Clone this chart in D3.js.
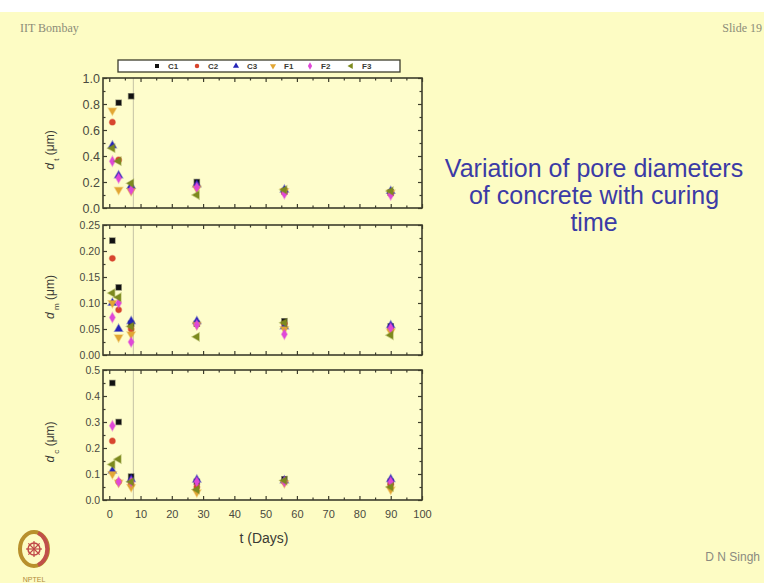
<!DOCTYPE html>
<html>
<head>
<meta charset="utf-8">
<script src="https://cdn.jsdelivr.net/npm/d3@7"></script>
<style>
  body { margin: 0; background: #fff; }
  svg { display: block; }
</style>
</head>
<body>
<svg id="chart"></svg>
<script>
(function() {

// ---- data ----
const days = [1, 3, 7, 28, 56, 90];
const seriesNames = ["C1", "C2", "C3", "F1", "F2", "F3"];
const seriesColors = ["#111111", "#d8452e", "#2525b8", "#e2a634", "#e048d8", "#7d8a1e"];
const xTicks = [0, 10, 20, 30, 40, 50, 60, 70, 80, 90, 100];
const guideDay = 7.7;   // thin grey vertical line in every panel

// d_t (um), rows = series, cols = days
const dtValues = [
  [null, 0.81, 0.86, 0.20, 0.13, 0.12],
  [0.66, 0.37, 0.15, 0.17, 0.12, 0.11],
  [0.48, 0.25, 0.17, 0.18, 0.14, 0.13],
  [0.75, 0.14, 0.13, 0.15, 0.13, 0.12],
  [0.36, 0.23, 0.14, 0.16, 0.11, 0.10],
  [0.46, 0.36, 0.19, 0.10, 0.14, 0.13]
];
// d_m (um)
const dmValues = [
  [0.22, 0.13, 0.060, 0.060, 0.065, 0.055],
  [0.186, 0.087, 0.050, 0.060, 0.060, 0.050],
  [0.100, 0.050, 0.065, 0.065, 0.055, 0.057],
  [0.100, 0.034, 0.040, 0.058, 0.050, 0.045],
  [0.072, 0.100, 0.025, 0.058, 0.040, 0.052],
  [0.119, 0.111, 0.055, 0.035, 0.062, 0.038]
];
// d_c (um)
const dcValues = [
  [0.45, 0.30, 0.09, 0.07, 0.08, 0.07],
  [0.227, 0.07, 0.06, 0.05, 0.07, 0.06],
  [0.112, null, 0.08, 0.078, 0.075, 0.08],
  [0.10, 0.067, 0.05, 0.03, 0.065, 0.04],
  [0.286, 0.07, 0.07, 0.07, 0.07, 0.07],
  [0.137, 0.157, 0.07, 0.04, 0.075, 0.05]
];

const titleLines = ["Variation of pore diameters", "of concrete with curing", "time"];

// ---- layout ----
const W = 764, H = 583;
const bg = "#fdfcc4";
const frameColor = "#3d3d2c";
const tickText = "#4a4a40";

const svg = d3.select("#chart").attr("width", W).attr("height", H);

svg.append("rect").attr("width", W).attr("height", H).attr("fill", "#ffffff");
svg.append("rect").attr("y", 12).attr("width", W).attr("height", H - 12).attr("fill", bg);

// slide header / footer
svg.append("text").attr("x", 20).attr("y", 32)
  .style("font-family", "Liberation Serif, serif").style("font-size", "12px")
  .attr("fill", "#8c8c78").text("IIT Bombay");
svg.append("text").attr("x", 762).attr("y", 32).attr("text-anchor", "end")
  .style("font-family", "Liberation Serif, serif").style("font-size", "12px")
  .attr("fill", "#8c8c78").text("Slide 19");
svg.append("text").attr("x", 760).attr("y", 561).attr("text-anchor", "end")
  .style("font-family", "Liberation Sans, Arial, sans-serif").style("font-size", "12px")
  .attr("fill", "#8a8a80").text("D N Singh");

// simple NPTEL emblem
const logo = svg.append("g").attr("transform", "translate(34,549)");
logo.append("ellipse").attr("rx", 14).attr("ry", 17).attr("fill", "none")
  .attr("stroke", "#b8902c").attr("stroke-width", 4);
logo.append("path").attr("d", "M 4,-16 A 14,17 0 0 1 4,16").attr("fill", "none")
  .attr("stroke", "#c0504a").attr("stroke-width", 4);
logo.append("circle").attr("r", 6).attr("fill", "none").attr("stroke", "#c04848").attr("stroke-width", 1.5);
d3.range(8).forEach(i => {
  const a = i * Math.PI / 4;
  logo.append("line").attr("x1", 0).attr("y1", 0)
    .attr("x2", 8 * Math.cos(a)).attr("y2", 8 * Math.sin(a))
    .attr("stroke", "#c04848").attr("stroke-width", 1.2);
});
svg.append("text").attr("x", 34).attr("y", 582).attr("text-anchor", "middle")
  .style("font-family", "Liberation Sans, Arial, sans-serif").style("font-size", "7px")
  .attr("fill", "#b08a3a").text("NPTEL");

// title on the right
svg.append("g").selectAll("text")
  .data(titleLines)
  .enter().append("text")
  .attr("x", 594)
  .attr("y", (d, i) => 177 + i * 27)
  .attr("text-anchor", "middle")
  .style("font-family", "Liberation Sans, Arial, sans-serif")
  .style("font-size", "25px")
  .attr("fill", "#3b3ba6")
  .text(d => d);

// ---- scales ----
const xScale = d3.scaleLinear().domain([-2, 100]).range([103, 422]);

const symbolTypes = [d3.symbolSquare, d3.symbolCircle, d3.symbolTriangle, d3.symbolTriangle, d3.symbolDiamond, d3.symbolTriangle];
const symbolRotate = [0, 0, 0, 180, 0, -90];

const panels = [
  { top: 78,  bottom: 208, max: 1.0,  major: 0.2,  minor: 0.1,   fmt: ".1f", values: dtValues, sub: "t", fs: 12.5 },
  { top: 225, bottom: 355, max: 0.25, major: 0.05, minor: 0.025, fmt: ".2f", values: dmValues, sub: "m", fs: 10.5 },
  { top: 370, bottom: 500, max: 0.5,  major: 0.1,  minor: 0.05,  fmt: ".1f", values: dcValues, sub: "c", fs: 10.5 }
];

panels.forEach((p, pi) => {
  const yScale = d3.scaleLinear().domain([0, p.max]).range([p.bottom, p.top]);
  const g = svg.append("g");
  const x0 = xScale.range()[0], x1 = xScale.range()[1];

  g.append("rect")
    .attr("x", x0).attr("y", p.top)
    .attr("width", x1 - x0).attr("height", p.bottom - p.top)
    .attr("fill", "#fefdcc");

  // thin guide line
  g.append("line")
    .attr("x1", xScale(guideDay)).attr("x2", xScale(guideDay))
    .attr("y1", p.top).attr("y2", p.bottom)
    .attr("stroke", "#c4c2a4").attr("stroke-width", 1);

  const majorY = d3.range(0, p.max + 1e-9, p.major);
  const minorY = d3.range(p.minor, p.max, p.major);
  const minorX = d3.range(5, 100, 10);

  const styleAxis = sel => {
    sel.select(".domain").remove();
    sel.selectAll("line").attr("stroke", frameColor).attr("stroke-width", 1.2);
    sel.selectAll("text").attr("fill", tickText)
      .style("font-family", "Liberation Sans, Arial, sans-serif");
  };

  // left axis with labels
  g.append("g").attr("transform", `translate(${x0},0)`)
    .call(d3.axisLeft(yScale).tickValues(majorY).tickSize(-4).tickPadding(3).tickFormat(d3.format(p.fmt)))
    .call(styleAxis)
    .call(s => s.selectAll("text").style("font-size", p.fs + "px"));
  g.append("g").attr("transform", `translate(${x0},0)`)
    .call(d3.axisLeft(yScale).tickValues(minorY).tickSize(-2.5).tickFormat(""))
    .call(styleAxis);
  // right axis
  g.append("g").attr("transform", `translate(${x1},0)`)
    .call(d3.axisRight(yScale).tickValues(majorY).tickSize(-4).tickFormat(""))
    .call(styleAxis);
  g.append("g").attr("transform", `translate(${x1},0)`)
    .call(d3.axisRight(yScale).tickValues(minorY).tickSize(-2.5).tickFormat(""))
    .call(styleAxis);
  // bottom axis
  const bottomAxis = d3.axisBottom(xScale).tickValues(xTicks).tickSize(-4).tickPadding(10);
  if (pi < panels.length - 1) bottomAxis.tickFormat("");
  g.append("g").attr("transform", `translate(0,${p.bottom})`)
    .call(bottomAxis)
    .call(styleAxis)
    .call(s => s.selectAll("text").style("font-size", "11px"));
  g.append("g").attr("transform", `translate(0,${p.bottom})`)
    .call(d3.axisBottom(xScale).tickValues(minorX).tickSize(-2.5).tickFormat(""))
    .call(styleAxis);
  // top axis
  g.append("g").attr("transform", `translate(0,${p.top})`)
    .call(d3.axisTop(xScale).tickValues(xTicks).tickSize(-4).tickFormat(""))
    .call(styleAxis);
  g.append("g").attr("transform", `translate(0,${p.top})`)
    .call(d3.axisTop(xScale).tickValues(minorX).tickSize(-2.5).tickFormat(""))
    .call(styleAxis);

  // frame
  g.append("rect")
    .attr("x", x0).attr("y", p.top)
    .attr("width", x1 - x0).attr("height", p.bottom - p.top)
    .attr("fill", "none").attr("stroke", frameColor).attr("stroke-width", 1.6);

  // y title
  const cy = (p.top + p.bottom) / 2 + 7;
  const yt = g.append("text")
    .attr("transform", `translate(54,${cy}) rotate(-90)`)
    .attr("text-anchor", "middle")
    .style("font-family", "Liberation Sans, Arial, sans-serif")
    .style("font-size", "12px")
    .attr("fill", "#3a3a34");
  yt.append("tspan").style("font-style", "italic").text("d");
  yt.append("tspan").attr("dy", 5).style("font-size", "8px").text(" " + p.sub);
  yt.append("tspan").attr("dy", -5).text(" (\u03bcm)");

  // markers
  seriesNames.forEach((name, si) => {
    const pts = days.map((d, di) => ({ day: d, v: p.values[si][di] })).filter(d => d.v != null);
    g.append("g").selectAll("path")
      .data(pts)
      .enter().append("path")
      .attr("d", d3.symbol().type(symbolTypes[si]).size(26))
      .attr("transform", d => `translate(${xScale(d.day)},${yScale(d.v)}) rotate(${symbolRotate[si]})`)
      .attr("fill", seriesColors[si])
      .attr("stroke", seriesColors[si])
      .attr("stroke-opacity", 0.45)
      .attr("stroke-width", 1.5);
  });
});

// x title
svg.append("text").attr("x", 264).attr("y", 543).attr("text-anchor", "middle")
  .style("font-family", "Liberation Sans, Arial, sans-serif").style("font-size", "14px")
  .attr("fill", "#3a3a34").text("t (Days)");

// ---- legend ----
const legend = svg.append("g");
legend.append("rect").attr("x", 118).attr("y", 60).attr("width", 282).attr("height", 12)
  .attr("fill", "#ffffff").attr("stroke", frameColor).attr("stroke-width", 1.3);
const legendX = [157, 197, 236, 273, 310, 351];
seriesNames.forEach((name, si) => {
  legend.append("path")
    .attr("d", d3.symbol().type(symbolTypes[si]).size(16))
    .attr("transform", `translate(${legendX[si]},66) rotate(${symbolRotate[si]})`)
    .attr("fill", seriesColors[si]);
  legend.append("text")
    .attr("x", legendX[si] + 11).attr("y", 69)
    .style("font-family", "Liberation Sans, Arial, sans-serif")
    .style("font-size", "8px").style("font-weight", "bold")
    .attr("fill", "#3a3a34").text(name);
});

})();
</script>
</body>
</html>
